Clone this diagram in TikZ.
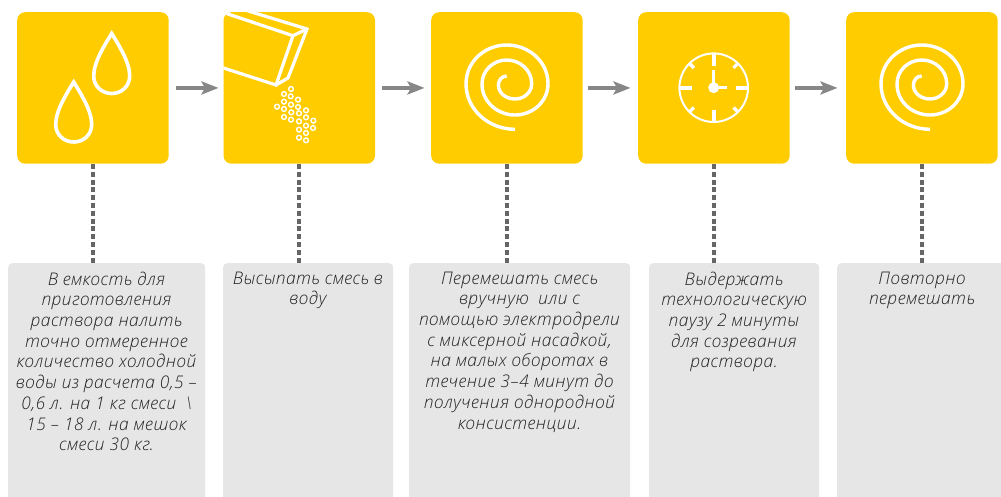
\documentclass[tikz,border=0pt]{standalone}
\usepackage{fontspec}
\setmainfont[ItalicFont={Open Sans Light Italic},ItalicFeatures={LetterSpace=2.4}]{Open Sans}
\usetikzlibrary{arrows.meta}
\definecolor{tileY}{HTML}{FFCC00}
\definecolor{boxG}{HTML}{E6E6E6}
\definecolor{arrG}{HTML}{878787}
\definecolor{dotG}{HTML}{666666}
\definecolor{txtG}{HTML}{222222}
\tikzset{
  tile/.style={fill=tileY,rounded corners=8pt,minimum width=151.5pt,minimum height=151.5pt,inner sep=0pt,anchor=north west},
  note/.style={fill=boxG,rounded corners=4pt,minimum height=250pt,inner sep=0pt,anchor=north west},
  notetext/.style={anchor=north,align=center,inner sep=0pt,text=txtG,font=\fontsize{17.4}{20.7}\selectfont\itshape},
  flow/.style={draw=arrG,line width=4pt,-{Stealth[length=17pt,width=13pt,inset=3.5pt]}},
  leader/.style={draw=dotG,line width=4.4pt,dash pattern=on 5pt off 2.8pt},
  icon/.style={draw=white,line width=3.6pt,line join=miter,miter limit=10},
  grain/.style={draw=white,line width=1.4pt},
  spiralp/.pic={
    \draw[icon,line width=3.4pt] (0,-11) to[out=180,in=90] (-8.3,-2)
      to[out=270,in=180] (8.3,12) to[out=0,in=270] (25,-3.3)
      to[out=90,in=0] (0,-27) to[out=180,in=90] (-24.7,-3)
      to[out=270,in=180] (8.3,28) to[out=0,in=270] (41.3,-3.3)
      to[out=90,in=0] (0,-42) to[out=180,in=90] (-40.7,-3.3)
      to[out=270,in=180] (8.3,42.3);
  },
  dropp/.pic={
    \draw[icon] (0,-42.5) .. controls (7,-31) and (18,-14) .. (18,0)
      .. controls (18,10) and (10,17.5) .. (0,17.5)
      .. controls (-10,17.5) and (-18,10) .. (-18,0)
      .. controls (-18,-14) and (-7,-31) .. cycle;
  }
}
\begin{document}
\begin{tikzpicture}[x=1pt,y=-1pt]
\useasboundingbox (0,0) rectangle (1001,496);
\clip (0,0) rectangle (1001,496);
% tiles
\node[tile] (t1) at (17,12) {};
\node[tile] (t2) at (223.3,12) {};
\node[tile] (t3) at (431,12) {};
\node[tile] (t4) at (638,12) {};
\node[tile] (t5) at (846,12) {};
% notes
\node[note,minimum width=197pt] (n1) at (8,263) {};
\node[note,minimum width=170pt] (n2) at (223,263) {};
\node[note,minimum width=221pt] (n3) at (409,263) {};
\node[note,minimum width=170pt] (n4) at (649,263) {};
\node[note,minimum width=170pt] (n5) at (837,263) {};
% texts
\node[notetext] (x1) at (106.5,271.5) {В емкость для\\приготовления\\раствора налить\\точно отмеренное\\количество холодной\\воды из расчета 0,5 –\\0,6 л. на 1 кг смеси \ \textbackslash\\15 – 18 л. на мешок\\смеси 30 кг.};
\node[notetext] (x2) at (308,271.5) {Высыпать смесь в\\воду};
\node[notetext] (x3) at (519.5,271.5) {Перемешать смесь\\вручную \ или с\\помощью электродрели\\с миксерной насадкой,\\на малых оборотах в\\течение 3–4 минут до\\получения однородной\\консистенции.};
\node[notetext] (x4) at (734,271.5) {Выдержать\\технологическую\\паузу 2 минуты\\для созревания\\раствора.};
\node[notetext] (x5) at (922,271.5) {Повторно\\перемешать};
% connectors
\foreach \i in {1,...,5}{
  \draw[leader] (t\i.south) -- (t\i.south |- n\i.north);
}
\draw[flow,shorten <=7.5pt,shorten >=4.8pt] (t1.east) -- (t2.west);
\draw[flow,shorten <=7.2pt,shorten >=6.5pt] (t2.east) -- (t3.west);
\draw[flow,shorten <=5.5pt,shorten >=7.5pt] (t3.east) -- (t4.west);
\draw[flow,shorten <=5.5pt,shorten >=8.5pt] (t4.east) -- (t5.west);
% drops
\pic at (111.7,76) {dropp};
\pic at (73.7,124.5) {dropp};
% packet
\begin{scope}
\clip[rounded corners=8pt] (223.3,12) rectangle (374.8,163.5);
\draw[icon,line width=3.2pt] (245,10) -- (307,29) -- (288,78) -- (276,85);
\draw[icon,line width=3.2pt] (222,12) -- (293,35.7) -- (276,85) -- (222,67.5);
\draw[icon,line width=3.2pt] (293,35.7) -- (307,29);
\end{scope}
\foreach \x/\y in {243/267,222/282,242/289,264/299,222/305,243/314,264/321,201/320,222/327,288/331,244/337,267/340,222/351,243/359,288/352,310/362,267/364,288/377,309/384,267/389,288/399,267/413,288/421}{
  \draw[grain] ({\x/3+210},{\y/3}) circle (2.4pt);
}
% spirals
\pic at (506.7,87) {spiralp};
\pic at (921.7,87) {spiralp};
% clock
\coordinate (c) at (713.7,87.7);
\draw[draw=white,line width=2pt] (c) circle (34.3pt);
\foreach \a in {0,90,180,270}{
  \draw[draw=white,line width=3.8pt] (c) ++(\a:22pt) -- ++(\a:12pt);
}
\foreach \a in {45,135,225,315}{
  \draw[draw=white,line width=3.2pt] (c) ++(\a:28pt) -- ++(\a:6pt);
}
\draw[draw=white,line width=3.4pt] (c) -- ++(0,-18);
\draw[draw=white,line width=3pt] (c) -- ++(13,0);
\fill[white] (c) circle (5.5pt);
\end{tikzpicture}
\end{document}
